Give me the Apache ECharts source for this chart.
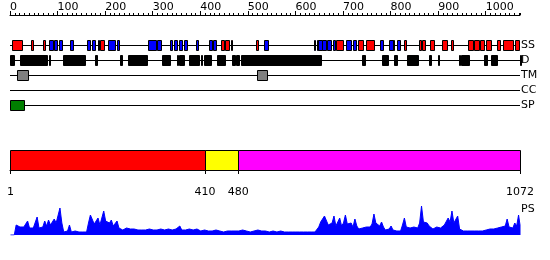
<!DOCTYPE html>
<html>
<head>
<meta charset="utf-8">
<script src="https://cdn.jsdelivr.net/npm/echarts@6/dist/echarts.min.js"></script>
<style>html,body{margin:0;padding:0;background:#fff;}#c{width:550px;height:260px;}</style>
</head>
<body>
<div id="c"></div>
<script>
// ---------- data ----------
const seqLength = 1072;
const trackNames = ['SS', 'D', 'TM', 'CC', 'SP'];
const rulerTicks = [0, 100, 200, 300, 400, 500, 600, 700, 800, 900, 1000];
const helices = [[5,26],[45,49],[69,73],[189,197],[444,450],[452,461],[464,465],[517,522],[685,701],[731,741],[748,766],[828,833],[859,864],[866,873],[883,891],[907,918],[928,932],[963,974],[976,986],[988,997],[1001,1011],[1023,1031],[1036,1058],[1062,1070]];
const strands = [[83,90],[93,99],[104,110],[126,133],[162,168],[172,179],[184,188],[205,220],[224,230],[290,306],[308,317],[336,340],[345,350],[355,362],[366,373],[391,396],[418,425],[427,433],[533,543],[640,641],[645,646],[648,655],[656,664],[666,674],[679,684],[707,716],[720,727],[778,783],[796,805],[806,807],[814,819]];
const disorder = [[1,8],[22,78],[81,82],[111,157],[179,182],[232,235],[247,288],[320,336],[352,354],[356,366],[377,397],[401,404],[408,423],[436,452],[467,473],[476,482],[485,654],[740,746],[782,794],[807,813],[835,857],[881,884],[899,900],[944,945],[948,965],[996,1003],[1011,1024],[1071,1072]];
const transmembrane = [[15,37],[520,541]];
const coiledCoil = [];
const signalPeptide = [[1,30]];
const domains = [[1,410],[410,480],[480,1072]];
const domainBounds = [1, 410, 480, 1072];
const psStep = 4;
const psValues = [
0,0,0,10,9,8,7,8,7,14,
7,6,7,6,18,7,6,8,14,9,
15,10,11,16,12,13,27,12,3,3,
4,10,3,3,4,3,3,2,3,4,
3,12,20,18,11,13,17,10,12,24,
14,16,12,15,9,8,14,7,6,5,
6,7,5,6,5,6,5,5,6,5,
7,5,5,6,5,5,6,5,5,6,
7,5,5,6,5,5,5,6,5,9,
5,6,5,5,6,5,5,5,6,7,
4,4,5,4,4,3,4,4,5,4,
4,4,3,4,4,5,4,4,4,3,
4,4,5,4,4,4,3,4,4,4,
5,4,4,3,4,4,3,3,4,3,
3,3,4,3,3,3,3,3,3,2,
3,3,3,3,3,2,3,3,3,3,
3,3,8,13,11,19,17,10,8,12,
19,9,11,17,9,12,20,11,9,12,
8,16,9,6,5,7,9,8,10,8,
11,21,12,10,9,13,8,5,5,6,
9,5,4,4,3,4,10,17,8,6,
7,5,8,6,7,12,29,13,11,12,
9,7,6,7,8,9,7,9,10,11,
17,13,24,12,10,19,6,4,4,5,
4,4,4,5,4,4,4,5,4,4,
5,4,6,7,6,8,7,6,8,7,
9,16,8,10,7,12,9,20,10
];

// ---------- styles ----------
const FONT = 'DejaVu Sans';
const colors = { helix: '#ff0000', strand: '#0000ff', disorder: '#000000', tm: '#808080', cc: '#ffa500', sp: '#008000' };
const domainColors = ['#ff0000', '#ffff00', '#ff00ff'];

// build track items: [start, end, trackIndex, kind]
const trackItems = [];
helices.forEach(s => trackItems.push([s[0], s[1], 0, 'helix']));
strands.forEach(s => trackItems.push([s[0], s[1], 0, 'strand']));
disorder.forEach(s => trackItems.push([s[0], s[1], 1, 'disorder']));
transmembrane.forEach(s => trackItems.push([s[0], s[1], 2, 'tm']));
coiledCoil.forEach(s => trackItems.push([s[0], s[1], 3, 'cc']));
signalPeptide.forEach(s => trackItems.push([s[0], s[1], 4, 'sp']));

const domainItems = domains.map((d, i) => [d[0], d[1], i]);
const psData = psValues.map((v, i) => [Math.min(1 + psStep * i, seqLength), v]);
psData.push([seqLength, 0]);

const chart = echarts.init(document.getElementById('c'), null, { renderer: 'canvas' });

function crisp(v) { return Math.round(v) + 0.5; }
const plain = v => String(v);

chart.setOption({
  animation: false,
  backgroundColor: '#fff',
  title: {
    text: 'PS', left: 521, top: 204,
    textStyle: { fontFamily: FONT, fontSize: 11, fontWeight: 'normal', color: '#000' },
    padding: 0
  },
  grid: [
    { left: 10, right: 30, top: 45, height: 60 },
    { left: 10, right: 30, top: 150, height: 20 },
    { left: 10, right: 30, top: 205, height: 30 }
  ],
  xAxis: [
    { // ruler (major)
      type: 'value', gridIndex: 0, min: 0, max: seqLength, position: 'top', offset: 30,
      axisLine: { show: true, lineStyle: { color: '#000', width: 1 } },
      axisTick: { show: true, length: 4, customValues: rulerTicks, lineStyle: { color: '#000' } },
      axisLabel: { show: true, customValues: rulerTicks, formatter: plain, align: 'left', margin: 2, fontFamily: FONT, fontSize: 11, color: '#000' },
      splitLine: { show: false }
    },
    { // ruler (minor ticks)
      type: 'value', gridIndex: 0, min: 0, max: seqLength, interval: 10, position: 'top', offset: 30,
      axisLine: { show: false },
      axisTick: { show: true, length: 2, lineStyle: { color: '#000' } },
      axisLabel: { show: false },
      splitLine: { show: false }
    },
    { // domain axis
      type: 'value', gridIndex: 1, min: 0, max: seqLength, position: 'bottom', offset: 10,
      axisLine: { show: true, lineStyle: { color: '#000', width: 1 } },
      axisTick: { show: true, length: 4, customValues: domainBounds, lineStyle: { color: '#000' } },
      axisLabel: { show: true, customValues: domainBounds, formatter: plain, margin: 7, fontFamily: FONT, fontSize: 11, color: '#000' },
      splitLine: { show: false }
    },
    { type: 'value', gridIndex: 2, min: 0, max: seqLength, show: false }
  ],
  yAxis: [
    {
      type: 'category', gridIndex: 0, data: trackNames, inverse: true, boundaryGap: false, position: 'right',
      axisLine: { show: false }, axisTick: { show: false },
      axisLabel: { show: true, margin: 1, fontFamily: FONT, fontSize: 11, color: '#000' },
      splitLine: { show: true, lineStyle: { color: '#000', width: 1 } }
    },
    { type: 'value', gridIndex: 1, min: 0, max: 1, show: false },
    { type: 'value', gridIndex: 2, min: 0, max: 30, show: false }
  ],
  series: [
    {
      type: 'custom', xAxisIndex: 0, yAxisIndex: 0, data: trackItems,
      encode: { x: [0, 1], y: 2 },
      renderItem: function (params, api) {
        const s = api.coord([api.value(0), api.value(2)]);
        const e = api.coord([api.value(1), api.value(2)]);
        const kind = trackItems[params.dataIndex][3];
        let x0 = crisp(s[0]), x1 = crisp(e[0]);
        if (x1 - x0 < 1) x1 = x0 + 1;
        const y0 = crisp(s[1] - 5);
        return {
          type: 'rect',
          shape: { x: x0, y: y0, width: x1 - x0, height: 10 },
          style: { fill: colors[kind], stroke: '#000', lineWidth: 1 }
        };
      }
    },
    {
      type: 'custom', xAxisIndex: 2, yAxisIndex: 1, data: domainItems,
      encode: { x: [0, 1] },
      renderItem: function (params, api) {
        const s = api.coord([api.value(0), 1]);
        const e = api.coord([api.value(1), 0]);
        const x0 = crisp(s[0]), x1 = crisp(e[0]);
        const y0 = crisp(s[1]), y1 = crisp(e[1]);
        return {
          type: 'rect',
          shape: { x: x0, y: y0, width: x1 - x0, height: y1 - y0 },
          style: { fill: domainColors[api.value(2)], stroke: '#000', lineWidth: 1 }
        };
      }
    },
    {
      type: 'line', xAxisIndex: 3, yAxisIndex: 2, data: psData,
      showSymbol: false, symbol: 'none',
      lineStyle: { color: '#0000ff', width: 1 },
      areaStyle: { color: '#0000ff', opacity: 1 }
    }
  ]
});
</script>
</body>
</html>
